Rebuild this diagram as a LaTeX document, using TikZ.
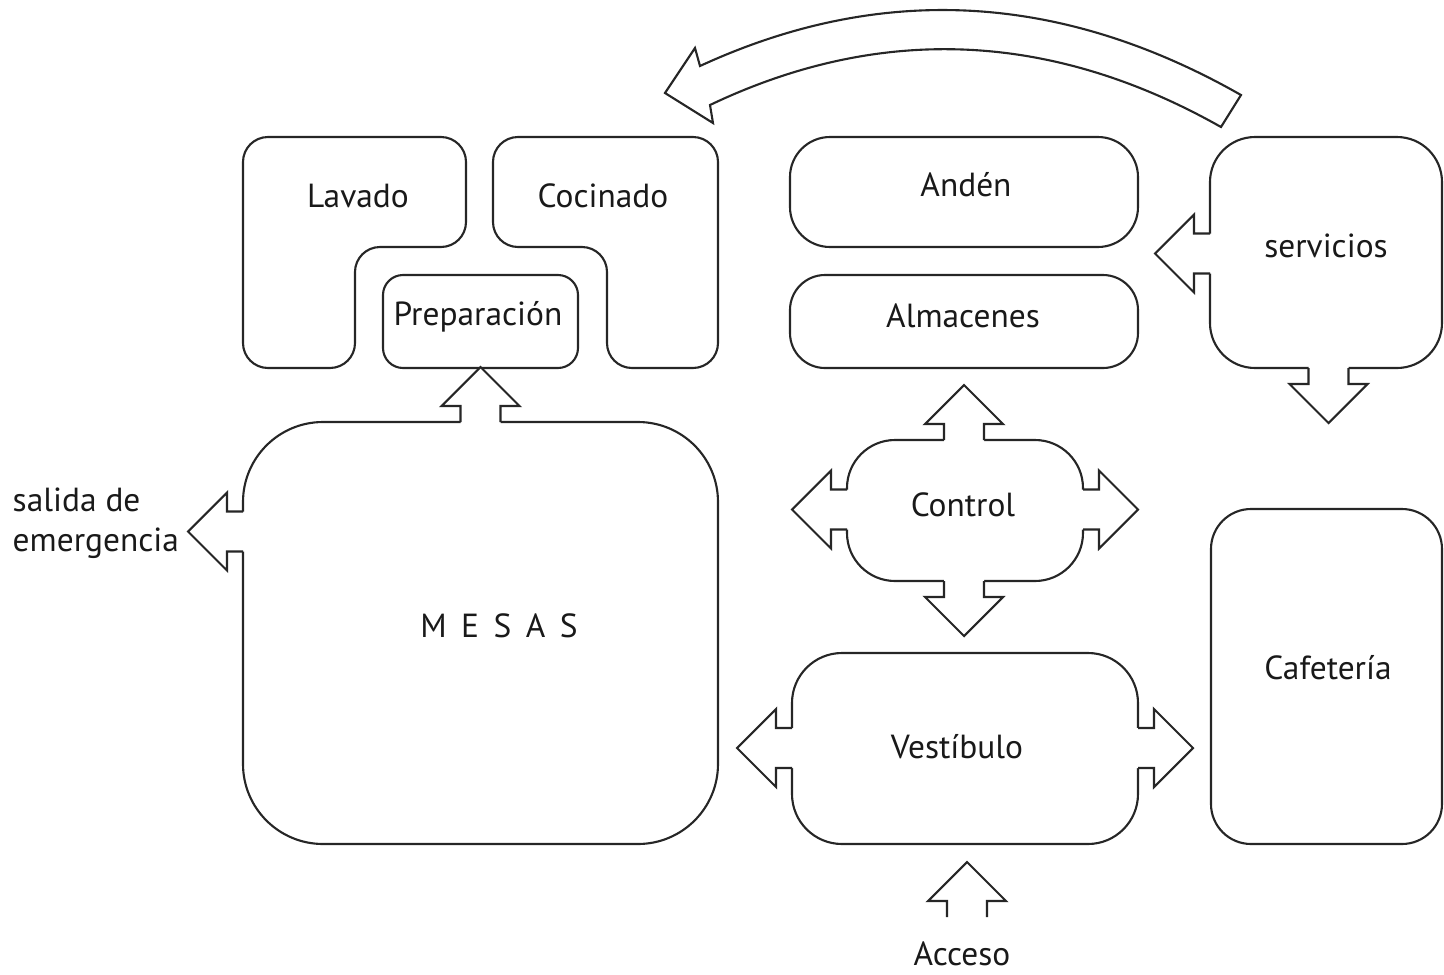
\documentclass[tikz,border=0pt]{standalone}
\usepackage{fontspec}
\setmainfont{PT Sans}
\usetikzlibrary{positioning}
\tikzset{x=0.01cm, y=-0.01cm, % one unit is one pixel, y grows downwards
wall/.style={draw=black!85, line width=0.6pt}, % outline of every room and arrow
room/.style={wall, rounded corners=#1}, % rounded room, radius as argument
room/.default=0.25cm,
every node/.style={font=\fontsize{9.5}{11.4}\selectfont, text=black!90},
% block arrow pointing along +x, its stem starting at the room wall
bigarrow/.pic={
\fill[white] (-2,-20) -- (16,-20) -- (16,-39) -- (55,0) -- (16,39) -- (16,20) -- (-2,20) -- cycle;
\draw[wall] (0,-20) -- (16,-20) -- (16,-39) -- (55,0) -- (16,39) -- (16,20) -- (0,20);
},
}

\begin{document}
\begin{tikzpicture}
\useasboundingbox (0,0) rectangle (1444,975);

% kitchen block
\draw[room] (243,250) -- (243,137) -- (466,137) -- (466,247) -- (355,247) -- (355,368) -- (243,368) -- cycle;
\draw[room] (600,137) -- (718,137) -- (718,368) -- (607,368) -- (607,247) -- (493,247) -- (493,137) -- cycle;
\draw[room=0.2cm] (383,275) rectangle (578,368);

% supplies
\draw[room=0.4cm] (790,137) rectangle (1138,247);
\draw[room=0.35cm] (790,275) rectangle (1138,368);

% rooms with doors
\draw[room=0.8cm] (243,422) rectangle (718,844);
\draw[room=0.48cm] (847,440) rectangle (1083,581);
\draw[room=0.5cm] (792,653) rectangle (1138,844);
\draw[room=0.45cm] (1210,137) rectangle (1442,368);
\draw[room=0.4cm] (1211,509) rectangle (1442,844);

\pic[rotate=90] at (480.5,422) {bigarrow};
\pic[rotate=180] at (243,531.5) {bigarrow};
\pic[rotate=90] at (964,440) {bigarrow};
\pic[rotate=-90] at (964,581) {bigarrow};
\pic[rotate=180] at (847,509.5) {bigarrow};
\pic at (1083,509.5) {bigarrow};
\pic[rotate=180] at (792,748) {bigarrow};
\pic at (1138,748) {bigarrow};
\pic[rotate=180] at (1210,253.5) {bigarrow};
\pic[rotate=-90] at (1328.5,368) {bigarrow};
\pic[rotate=90] at (967,917) {bigarrow};

% bent arrow over the top
\draw[wall] (700,66) .. controls (880,-17) and (1060,-8) .. (1241,95) -- (1221,127)
  .. controls (1051,31) and (880,24) .. (710,105) -- (713,123) -- (665,93) -- (695,48) -- cycle;

\node (lavado) at (358,196) {Lavado};
\node (cocinado) at (603,196) {Cocinado};
\node (prep) at (478,317) {Preparación};
\node (anden) at (966,185) {Andén};
\node (almacenes) at (963,316) {Almacenes};
\node (servicios) at (1326,246) {servicios};
\node (control) at (963,505) {Control};
\node (mesas) at (499,626) {M\,\ E\,\ S\,\ A\,\ S};
\node (vestibulo) at (957,747) {Vestíbulo};
\node (cafeteria) at (1328,668) {Cafetería};
\node[align=left, anchor=west, inner sep=0pt] (salida) at (12,523) {salida de\\emergencia};
\node (acceso) at (962,954) {Acceso};

\end{tikzpicture}
\end{document}
